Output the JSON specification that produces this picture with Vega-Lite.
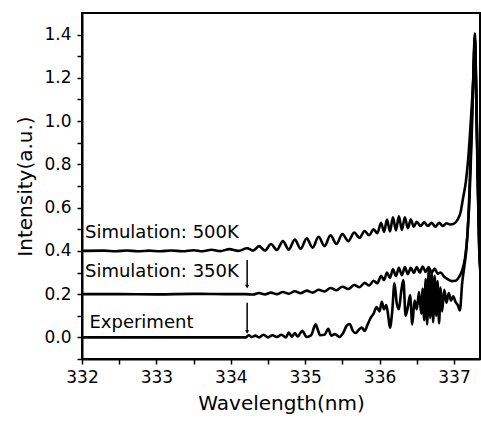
{
 "$schema": "https://vega.github.io/schema/vega-lite/v6.json",
 "autosize": "none",
 "width": 398,
 "height": 346,
 "padding": {"left": 82, "top": 13, "right": 1, "bottom": 65},
 "background": "white",
 "config": {
  "view": {"stroke": "black", "strokeWidth": 2},
  "axis": {"domainColor": "black", "domainWidth": 2, "tickColor": "black", "tickWidth": 1.5, "tickSize": 5, "labelColor": "black", "titleColor": "black", "labelFont": "DejaVu Sans", "titleFont": "DejaVu Sans", "labelFontSize": 17, "titleFontSize": 20, "titleFontWeight": "normal", "grid": false, "labelOverlap": false}
 },
 "datasets": {
  "curves": [
   {"s":"500K","x":332.0,"y":0.400},{"s":"500K","x":332.3,"y":0.401},{"s":"500K","x":332.45,"y":0.398},{"s":"500K","x":332.6,"y":0.402},{"s":"500K","x":332.75,"y":0.398},{"s":"500K","x":332.9,"y":0.401},{"s":"500K","x":333.05,"y":0.398},{"s":"500K","x":333.2,"y":0.402},{"s":"500K","x":333.35,"y":0.398},{"s":"500K","x":333.5,"y":0.403},{"s":"500K","x":333.62,"y":0.398},{"s":"500K","x":333.74,"y":0.405},{"s":"500K","x":333.86,"y":0.399},{"s":"500K","x":333.98,"y":0.408},{"s":"500K","x":334.1,"y":0.400},{"s":"500K","x":334.22,"y":0.412},{"s":"500K","x":334.3,"y":0.401},{"s":"500K","x":334.38,"y":0.422},{"s":"500K","x":334.46,"y":0.402},{"s":"500K","x":334.54,"y":0.432},{"s":"500K","x":334.62,"y":0.404},{"s":"500K","x":334.7,"y":0.445},{"s":"500K","x":334.78,"y":0.406},{"s":"500K","x":334.86,"y":0.452},{"s":"500K","x":334.94,"y":0.410},{"s":"500K","x":335.02,"y":0.458},{"s":"500K","x":335.1,"y":0.415},{"s":"500K","x":335.18,"y":0.465},{"s":"500K","x":335.26,"y":0.422},{"s":"500K","x":335.34,"y":0.472},{"s":"500K","x":335.42,"y":0.432},{"s":"500K","x":335.5,"y":0.478},{"s":"500K","x":335.58,"y":0.445},{"s":"500K","x":335.66,"y":0.485},{"s":"500K","x":335.73,"y":0.460},{"s":"500K","x":335.8,"y":0.492},{"s":"500K","x":335.86,"y":0.472},{"s":"500K","x":335.92,"y":0.500},{"s":"500K","x":335.97,"y":0.482},{"s":"500K","x":336.02,"y":0.530},{"s":"500K","x":336.06,"y":0.488},{"s":"500K","x":336.1,"y":0.545},{"s":"500K","x":336.14,"y":0.490},{"s":"500K","x":336.18,"y":0.555},{"s":"500K","x":336.22,"y":0.495},{"s":"500K","x":336.26,"y":0.560},{"s":"500K","x":336.3,"y":0.497},{"s":"500K","x":336.34,"y":0.555},{"s":"500K","x":336.38,"y":0.505},{"s":"500K","x":336.42,"y":0.545},{"s":"500K","x":336.46,"y":0.512},{"s":"500K","x":336.5,"y":0.535},{"s":"500K","x":336.55,"y":0.515},{"s":"500K","x":336.6,"y":0.532},{"s":"500K","x":336.65,"y":0.515},{"s":"500K","x":336.7,"y":0.530},{"s":"500K","x":336.75,"y":0.512},{"s":"500K","x":336.8,"y":0.530},{"s":"500K","x":336.85,"y":0.515},{"s":"500K","x":336.9,"y":0.528},{"s":"500K","x":336.95,"y":0.522},{"s":"500K","x":337.0,"y":0.526},{"s":"500K","x":337.05,"y":0.545},{"s":"500K","x":337.09,"y":0.580},{"s":"500K","x":337.12,"y":0.640},{"s":"500K","x":337.16,"y":0.720},{"s":"500K","x":337.19,"y":0.820},{"s":"500K","x":337.23,"y":1.020},{"s":"500K","x":337.26,"y":1.200},{"s":"500K","x":337.28,"y":1.405},{"s":"500K","x":337.3,"y":1.100},{"s":"500K","x":337.32,"y":0.750},{"s":"500K","x":337.34,"y":0.420},{"s":"500K","x":337.36,"y":0.300},
   {"s":"350K","x":332.0,"y":0.200},{"s":"350K","x":332.5,"y":0.200},{"s":"350K","x":333.0,"y":0.199},{"s":"350K","x":333.5,"y":0.201},{"s":"350K","x":334.0,"y":0.200},{"s":"350K","x":334.2,"y":0.200},{"s":"350K","x":334.3,"y":0.198},{"s":"350K","x":334.38,"y":0.205},{"s":"350K","x":334.46,"y":0.199},{"s":"350K","x":334.54,"y":0.207},{"s":"350K","x":334.62,"y":0.200},{"s":"350K","x":334.7,"y":0.210},{"s":"350K","x":334.78,"y":0.202},{"s":"350K","x":334.86,"y":0.213},{"s":"350K","x":334.94,"y":0.204},{"s":"350K","x":335.02,"y":0.216},{"s":"350K","x":335.1,"y":0.207},{"s":"350K","x":335.18,"y":0.220},{"s":"350K","x":335.26,"y":0.212},{"s":"350K","x":335.34,"y":0.228},{"s":"350K","x":335.42,"y":0.218},{"s":"350K","x":335.5,"y":0.234},{"s":"350K","x":335.58,"y":0.224},{"s":"350K","x":335.66,"y":0.242},{"s":"350K","x":335.73,"y":0.232},{"s":"350K","x":335.8,"y":0.252},{"s":"350K","x":335.86,"y":0.240},{"s":"350K","x":335.92,"y":0.262},{"s":"350K","x":335.97,"y":0.250},{"s":"350K","x":336.02,"y":0.285},{"s":"350K","x":336.06,"y":0.265},{"s":"350K","x":336.1,"y":0.300},{"s":"350K","x":336.14,"y":0.275},{"s":"350K","x":336.18,"y":0.315},{"s":"350K","x":336.22,"y":0.283},{"s":"350K","x":336.26,"y":0.322},{"s":"350K","x":336.3,"y":0.287},{"s":"350K","x":336.34,"y":0.325},{"s":"350K","x":336.38,"y":0.292},{"s":"350K","x":336.42,"y":0.322},{"s":"350K","x":336.46,"y":0.298},{"s":"350K","x":336.5,"y":0.325},{"s":"350K","x":336.54,"y":0.300},{"s":"350K","x":336.58,"y":0.328},{"s":"350K","x":336.62,"y":0.302},{"s":"350K","x":336.66,"y":0.325},{"s":"350K","x":336.7,"y":0.300},{"s":"350K","x":336.74,"y":0.318},{"s":"350K","x":336.78,"y":0.295},{"s":"350K","x":336.82,"y":0.300},{"s":"350K","x":336.87,"y":0.280},{"s":"350K","x":336.92,"y":0.268},{"s":"350K","x":336.97,"y":0.260},{"s":"350K","x":337.02,"y":0.262},{"s":"350K","x":337.07,"y":0.280},{"s":"350K","x":337.11,"y":0.310},{"s":"350K","x":337.15,"y":0.370},{"s":"350K","x":337.18,"y":0.470},{"s":"350K","x":337.21,"y":0.650},{"s":"350K","x":337.24,"y":0.950},{"s":"350K","x":337.27,"y":1.300},{"s":"350K","x":337.28,"y":1.390},{"s":"350K","x":337.3,"y":1.150},{"s":"350K","x":337.32,"y":0.750},{"s":"350K","x":337.34,"y":0.420},{"s":"350K","x":337.36,"y":0.300},
   {"s":"exp","x":332.0,"y":0.000},{"s":"exp","x":334.2,"y":0.000},{"s":"exp","x":334.24,"y":0.010},{"s":"exp","x":334.28,"y":0.002},{"s":"exp","x":334.33,"y":0.008},{"s":"exp","x":334.38,"y":0.000},{"s":"exp","x":334.44,"y":0.012},{"s":"exp","x":334.5,"y":0.000},{"s":"exp","x":334.56,"y":0.010},{"s":"exp","x":334.62,"y":0.002},{"s":"exp","x":334.68,"y":0.012},{"s":"exp","x":334.74,"y":0.000},{"s":"exp","x":334.78,"y":0.022},{"s":"exp","x":334.82,"y":0.003},{"s":"exp","x":334.86,"y":0.020},{"s":"exp","x":334.9,"y":0.004},{"s":"exp","x":334.96,"y":0.030},{"s":"exp","x":335.02,"y":0.002},{"s":"exp","x":335.08,"y":0.010},{"s":"exp","x":335.14,"y":0.060},{"s":"exp","x":335.17,"y":0.035},{"s":"exp","x":335.2,"y":0.010},{"s":"exp","x":335.26,"y":0.012},{"s":"exp","x":335.31,"y":0.040},{"s":"exp","x":335.35,"y":0.008},{"s":"exp","x":335.4,"y":0.015},{"s":"exp","x":335.46,"y":0.002},{"s":"exp","x":335.51,"y":0.020},{"s":"exp","x":335.56,"y":0.055},{"s":"exp","x":335.6,"y":0.062},{"s":"exp","x":335.64,"y":0.030},{"s":"exp","x":335.68,"y":0.020},{"s":"exp","x":335.72,"y":0.035},{"s":"exp","x":335.76,"y":0.045},{"s":"exp","x":335.8,"y":0.030},{"s":"exp","x":335.84,"y":0.060},{"s":"exp","x":335.88,"y":0.090},{"s":"exp","x":335.92,"y":0.110},{"s":"exp","x":335.96,"y":0.140},{"s":"exp","x":336.0,"y":0.120},{"s":"exp","x":336.03,"y":0.165},{"s":"exp","x":336.06,"y":0.130},{"s":"exp","x":336.09,"y":0.150},{"s":"exp","x":336.12,"y":0.090},{"s":"exp","x":336.14,"y":0.045},{"s":"exp","x":336.17,"y":0.120},{"s":"exp","x":336.2,"y":0.250},{"s":"exp","x":336.23,"y":0.160},{"s":"exp","x":336.26,"y":0.130},{"s":"exp","x":336.29,"y":0.210},{"s":"exp","x":336.32,"y":0.265},{"s":"exp","x":336.35,"y":0.100},{"s":"exp","x":336.38,"y":0.140},{"s":"exp","x":336.41,"y":0.195},{"s":"exp","x":336.44,"y":0.060},{"s":"exp","x":336.47,"y":0.170},{"s":"exp","x":336.5,"y":0.130},{"s":"exp","x":336.53,"y":0.210},{"s":"exp","x":336.56,"y":0.110},{"s":"exp","x":336.58,"y":0.225},{"s":"exp","x":336.6,"y":0.080},{"s":"exp","x":336.62,"y":0.270},{"s":"exp","x":336.64,"y":0.060},{"s":"exp","x":336.66,"y":0.310},{"s":"exp","x":336.68,"y":0.090},{"s":"exp","x":336.7,"y":0.300},{"s":"exp","x":336.72,"y":0.070},{"s":"exp","x":336.74,"y":0.285},{"s":"exp","x":336.76,"y":0.100},{"s":"exp","x":336.78,"y":0.260},{"s":"exp","x":336.8,"y":0.065},{"s":"exp","x":336.82,"y":0.230},{"s":"exp","x":336.84,"y":0.120},{"s":"exp","x":336.87,"y":0.220},{"s":"exp","x":336.9,"y":0.160},{"s":"exp","x":336.93,"y":0.205},{"s":"exp","x":336.96,"y":0.170},{"s":"exp","x":336.99,"y":0.190},{"s":"exp","x":337.02,"y":0.165},{"s":"exp","x":337.05,"y":0.150},{"s":"exp","x":337.08,"y":0.125},{"s":"exp","x":337.11,"y":0.250},{"s":"exp","x":337.14,"y":0.330},{"s":"exp","x":337.17,"y":0.420},{"s":"exp","x":337.2,"y":0.600},{"s":"exp","x":337.23,"y":0.900},{"s":"exp","x":337.26,"y":1.200},{"s":"exp","x":337.28,"y":1.380},{"s":"exp","x":337.3,"y":1.100},{"s":"exp","x":337.32,"y":0.700},{"s":"exp","x":337.34,"y":0.400},{"s":"exp","x":337.36,"y":0.280}
  ],
  "labels": [
   {"x": 332.04, "y": 0.483, "text": "Simulation: 500K"},
   {"x": 332.04, "y": 0.303, "text": "Simulation: 350K"},
   {"x": 332.1, "y": 0.068, "text": "Experiment"}
  ],
  "arrows": [
   {"x": 334.22, "y": 0.358, "y2": 0.235},
   {"x": 334.22, "y": 0.16, "y2": 0.025}
  ]
 },
 "layer": [
  {
   "data": {"name": "curves"},
   "mark": {"type": "line", "color": "black", "strokeWidth": 2.6, "clip": true, "interpolate": "monotone"},
   "encoding": {
    "x": {"field": "x", "type": "quantitative", "title": "Wavelength(nm)", "scale": {"domain": [332, 337.35], "nice": false, "zero": false},
     "axis": {"values": [332, 332.5, 333, 333.5, 334, 334.5, 335, 335.5, 336, 336.5, 337], "tickCount": 30, "format": ".0f", "labelExpr": "datum.value % 1 == 0 ? datum.label : ''", "labelPadding": 5, "titlePadding": 8, "labelFlush": false}},
    "y": {"field": "y", "type": "quantitative", "title": "Intensity(a.u.)", "scale": {"domain": [-0.1, 1.5], "nice": false, "zero": false},
     "axis": {"values": [-0.1, 0, 0.1, 0.2, 0.3, 0.4, 0.5, 0.6, 0.7, 0.8, 0.9, 1.0, 1.1, 1.2, 1.3, 1.4], "tickCount": 30, "format": ".1f", "labelExpr": "(datum.value == 0 || datum.value == 0.2 || datum.value == 0.4 || datum.value == 0.6 || datum.value == 0.8 || datum.value == 1 || datum.value == 1.2 || datum.value == 1.4) ? datum.label : ''", "labelPadding": 6, "titlePadding": 8, "labelFlush": false}},
    "detail": {"field": "s"}
   }
  },
  {
   "data": {"name": "labels"},
   "mark": {"type": "text", "align": "left", "baseline": "middle", "font": "DejaVu Sans", "fontSize": 18, "color": "black"},
   "encoding": {
    "x": {"field": "x", "type": "quantitative", "title": "Wavelength(nm)", "scale": {"domain": [332, 337.35], "nice": false, "zero": false}},
    "y": {"field": "y", "type": "quantitative", "title": "Intensity(a.u.)", "scale": {"domain": [-0.1, 1.5], "nice": false, "zero": false}},
    "text": {"field": "text"}
   }
  },
  {
   "data": {"name": "arrows"},
   "mark": {"type": "rule", "color": "black", "strokeWidth": 1.5},
   "encoding": {
    "x": {"field": "x", "type": "quantitative", "title": "Wavelength(nm)", "scale": {"domain": [332, 337.35], "nice": false, "zero": false}},
    "y": {"field": "y", "type": "quantitative", "title": "Intensity(a.u.)", "scale": {"domain": [-0.1, 1.5], "nice": false, "zero": false}},
    "y2": {"field": "y2"}
   }
  },
  {
   "data": {"name": "arrows"},
   "mark": {"type": "point", "shape": "triangle-down", "filled": true, "color": "black", "size": 18, "opacity": 1},
   "encoding": {
    "x": {"field": "x", "type": "quantitative", "title": "Wavelength(nm)", "scale": {"domain": [332, 337.35], "nice": false, "zero": false}},
    "y": {"field": "y2", "type": "quantitative", "title": "Intensity(a.u.)", "scale": {"domain": [-0.1, 1.5], "nice": false, "zero": false}}
   }
  }
 ]
}
